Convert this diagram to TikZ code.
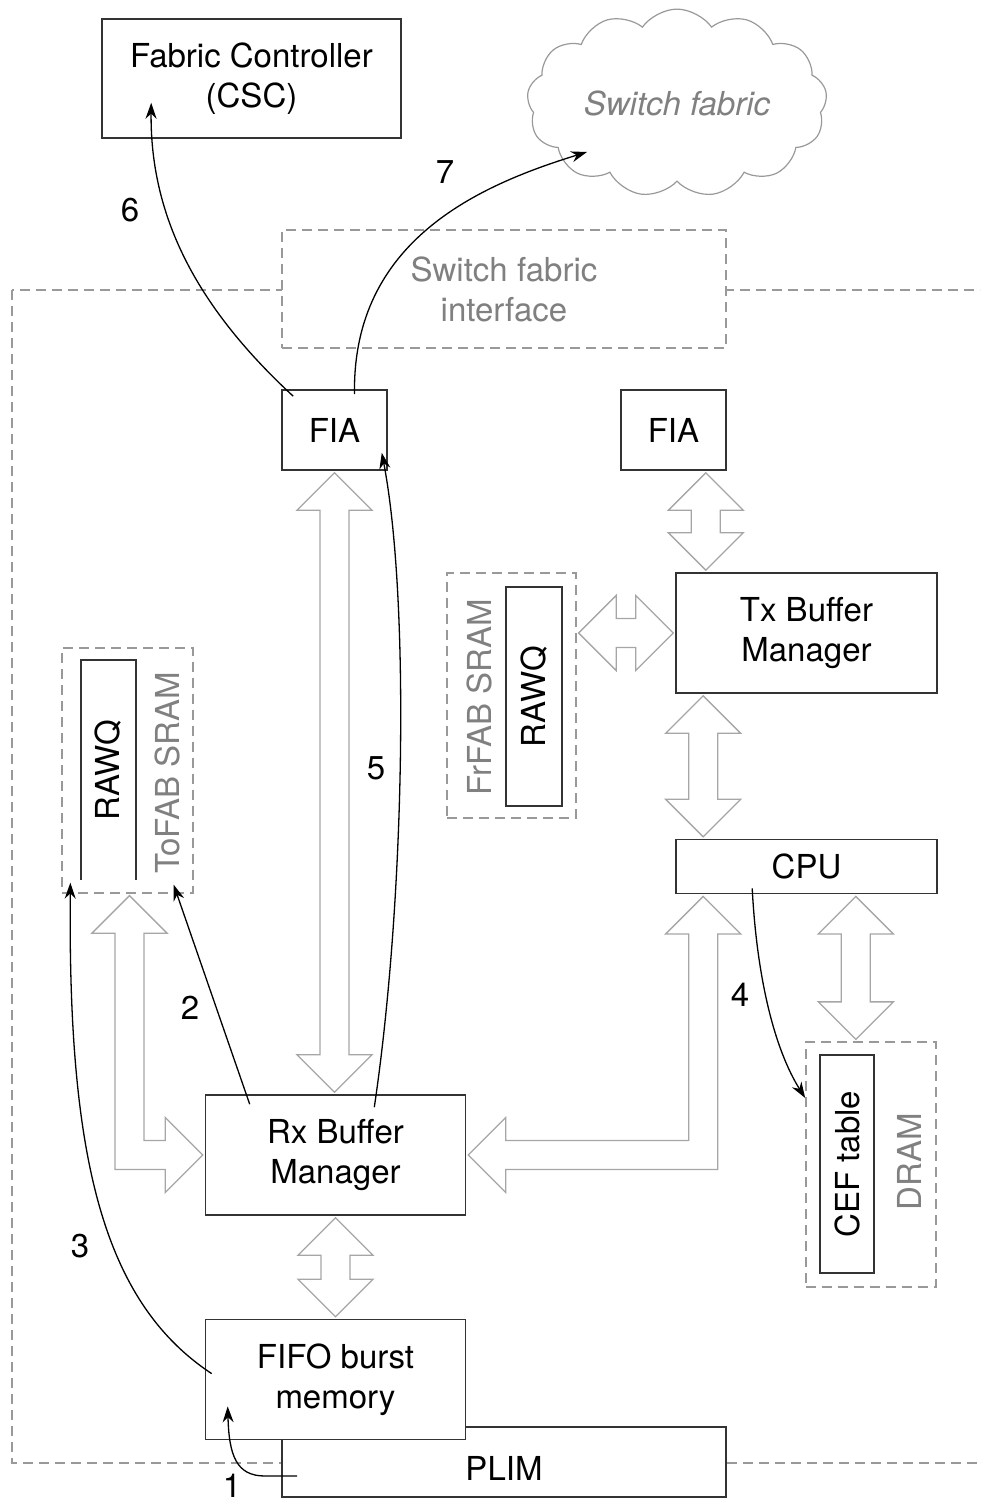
\documentclass[tikz,border=0pt]{standalone}
\usepackage{fontspec}
\setmainfont{TeX Gyre Heros}
\usetikzlibrary{arrows.meta,calc,positioning,shapes.symbols}

% hollow double arrow, vertical: upper end point, lower end point
\newcommand\vbus[2]{%
  \draw[bus] let \p1=(#1), \p2=(#2) in
    (\x1,{\y1-2pt}) -- ({\x1+37.5pt},{\y1-39.5pt}) -- ({\x1+14.5pt},{\y1-39.5pt})
    -- ({\x1+14.5pt},{\y2+39.5pt}) -- ({\x1+37.5pt},{\y2+39.5pt}) -- (\x1,{\y2+2pt})
    -- ({\x1-37.5pt},{\y2+39.5pt}) -- ({\x1-14.5pt},{\y2+39.5pt})
    -- ({\x1-14.5pt},{\y1-39.5pt}) -- ({\x1-37.5pt},{\y1-39.5pt}) -- cycle;}
% hollow double arrow, horizontal: left end point, right end point
\newcommand\hbus[2]{%
  \draw[bus] let \p1=(#1), \p2=(#2) in
    ({\x1+2pt},\y2) -- ({\x1+39.5pt},{\y2+37.5pt}) -- ({\x1+39.5pt},{\y2+14.5pt})
    -- ({\x2-39.5pt},{\y2+14.5pt}) -- ({\x2-39.5pt},{\y2+37.5pt}) -- ({\x2-2pt},\y2)
    -- ({\x2-39.5pt},{\y2-37.5pt}) -- ({\x2-39.5pt},{\y2-14.5pt})
    -- ({\x1+39.5pt},{\y2-14.5pt}) -- ({\x1+39.5pt},{\y2-37.5pt}) -- cycle;}

\begin{document}
\begin{tikzpicture}[x=1pt,y=-1pt,
    font=\fontsize{33}{40}\selectfont,
    >={Stealth[length=16pt,width=11pt]},
    box/.style={rectangle, draw=black!80, line width=1.6pt, fill=white, align=center, inner sep=0pt},
    dbox/.style={rectangle, draw=black!40, line width=1.3pt, dash pattern=on 10pt off 6pt, inner sep=0pt},
    gtext/.style={text=black!50, align=center},
    bus/.style={draw=black!35, line width=1.3pt, fill=white, line join=miter},
    flow/.style={->, line width=1.3pt},
    num/.style={inner sep=0pt}
  ]
  \useasboundingbox (0,0) rectangle (980,1502);
  \clip (0,0) rectangle (980,1502);

  % line card outline
  \draw[draw=black!40, line width=1.3pt, dash pattern=on 10pt off 6pt] (12,290) rectangle (1000,1463);

  \node[box, minimum width=299pt, minimum height=119pt] (fc) at (251.5,78.5) {Fabric Controller\\(CSC)};
  \node[cloud, draw=black!40, line width=1.2pt, cloud puffs=13, cloud puff arc=110, aspect=1.65,
        minimum width=300pt, minimum height=182pt, inner sep=0pt, text=black!50] (sf) at (677,103) {\itshape Switch fabric};
  \node[dbox, fill=white, gtext, minimum width=444pt, minimum height=118pt] (sfi) at (504,289) {Switch fabric\\interface};

  \node[box, minimum width=105pt, minimum height=80pt] (fiaL) at (334.5,430) {FIA};
  \node[box, minimum width=105pt, minimum height=80pt] (fiaR) at (673.5,430) {FIA};
  \node[box, minimum width=261pt, minimum height=120pt] (tx) at (806.5,633) {Tx Buffer\\Manager};
  \node[box, minimum width=261pt, minimum height=54pt, below=145pt of tx] (cpu) {CPU};

  % SRAM / DRAM blocks
  \node[dbox, minimum width=129pt, minimum height=245pt] (frfab) at (511.5,695.5) {};
  \node[box, minimum width=56pt, minimum height=219pt] (rawqR) at (534,696.5) {\rotatebox{90}{RAWQ}};
  \node[gtext] (frfabtxt) at (479,697) {\rotatebox{90}{FrFAB SRAM}};

  \node[dbox, minimum width=131pt, minimum height=245pt] (tofab) at (127.5,770.5) {};
  \node[inner sep=0pt, minimum width=55pt, minimum height=220pt] (rawqL) at (108.5,770) {\rotatebox{90}{RAWQ}};
  \draw[draw=black!80, line width=1.6pt] (rawqL.south west) -- (rawqL.north west) -- (rawqL.north east) -- (rawqL.south east);
  \node[gtext] (tofabtxt) at (167,773) {\rotatebox{90}{ToFAB SRAM}};

  \node[dbox, minimum width=130pt, minimum height=245pt] (dram) at (871,1164.5) {};
  \node[box, minimum width=54pt, minimum height=218pt] (cef) at (847,1164) {\rotatebox{90}{CEF table}};
  \node[gtext] (dramtxt) at (909,1162) {\rotatebox{90}{DRAM}};

  \node[box, minimum width=260pt, minimum height=120pt] (rx) at (335.5,1155) {Rx Buffer\\Manager};
  \node[box, minimum width=444pt, minimum height=70pt, text height=36pt, text depth=0pt] (plim) at (504,1462) {PLIM};
  \node[box, minimum width=260pt, minimum height=120pt, below=103pt of rx] (fifo) {FIFO burst\\memory};

  % data paths
  \vbus{fiaL.south}{rx.north}
  \vbus{$(fiaR.south east)+(-21,0)$}{tx.north}
  \vbus{$(tx.south west)+(28,0)$}{cpu.north}
  \vbus{$(cpu.south east)+(-82,0)$}{dram.north}
  \vbus{rx.south}{fifo.north}
  \hbus{frfab.east}{tx.west}
  \draw[bus] let \p1=(tofab.south), \p2=(rx.west), \n1={\x1+2pt} in
    (\n1,{\y1-2pt}) -- ({\n1+37.5pt},{\y1-39.5pt}) -- ({\n1+14.5pt},{\y1-39.5pt})
    -- ({\n1+14.5pt},{\y2+14.5pt}) -- ({\x2-39.5pt},{\y2+14.5pt}) -- ({\x2-39.5pt},{\y2+37.5pt})
    -- ({\x2-2pt},\y2) -- ({\x2-39.5pt},{\y2-37.5pt}) -- ({\x2-39.5pt},{\y2-14.5pt})
    -- ({\n1-14.5pt},{\y2-14.5pt}) -- ({\n1-14.5pt},{\y1-39.5pt}) -- ({\n1-37.5pt},{\y1-39.5pt}) -- cycle;
  \draw[bus] let \p1=($(cpu.south west)+(28,0)$), \p2=(rx.east) in
    (\x1,{\y1-2pt}) -- ({\x1+37.5pt},{\y1-39.5pt}) -- ({\x1+14.5pt},{\y1-39.5pt})
    -- ({\x1+14.5pt},{\y2-14.5pt}) -- ({\x2+39.5pt},{\y2-14.5pt}) -- ({\x2+39.5pt},{\y2-37.5pt})
    -- ({\x2+2pt},\y2) -- ({\x2+39.5pt},{\y2+37.5pt}) -- ({\x2+39.5pt},{\y2+14.5pt})
    -- ({\x1-14.5pt},{\y2+14.5pt}) -- ({\x1-14.5pt},{\y1-39.5pt}) -- ({\x1-37.5pt},{\y1-39.5pt}) -- cycle;

  % packet steps
  \node[num] (n1) at (232,1486) {1};
  \node[num] (n2) at (190,1008) {2};
  \node[num] (n3) at (80,1246) {3};
  \node[num] (n4) at (740,995) {4};
  \node[num] (n5) at (376,768) {5};
  \node[num] (n6) at (130,210) {6};
  \node[num] (n7) at (445,172) {7};

  \draw[flow] ($(plim.west)+(16,14)$) -- (265,1476) .. controls (236,1476) and (229,1455) .. ($(fifo.south west)+(23,-34)$);
  \draw[flow] ($(rx.north west)+(45,10)$) -- ($(tofab.south east)+(-20,-9)$);
  \draw[flow] ($(fifo.west)+(7,-6)$) .. controls (100,1300) and (68,1150) .. ($(tofab.south west)+(9,-11)$);
  \draw[flow] ($(cpu.south west)+(77,-6)$) .. controls (757,980) and (775,1050) .. ($(cef.west)+(-14,-66)$);
  \draw[flow] ($(rx.north east)+(-92,13)$) .. controls (405,900) and (410,600) .. ($(fiaL.south east)+(-6,-18)$);
  \draw[flow] ($(fiaL.north west)+(12,7)$) .. controls (200,310) and (150,220) .. ($(fc.south west)+(50,-36)$);
  \draw[flow] ($(fiaL.north)+(20,5)$) .. controls (352,240) and (480,185) .. ($(sf.center)+(-90,49)$);
\end{tikzpicture}
\end{document}
